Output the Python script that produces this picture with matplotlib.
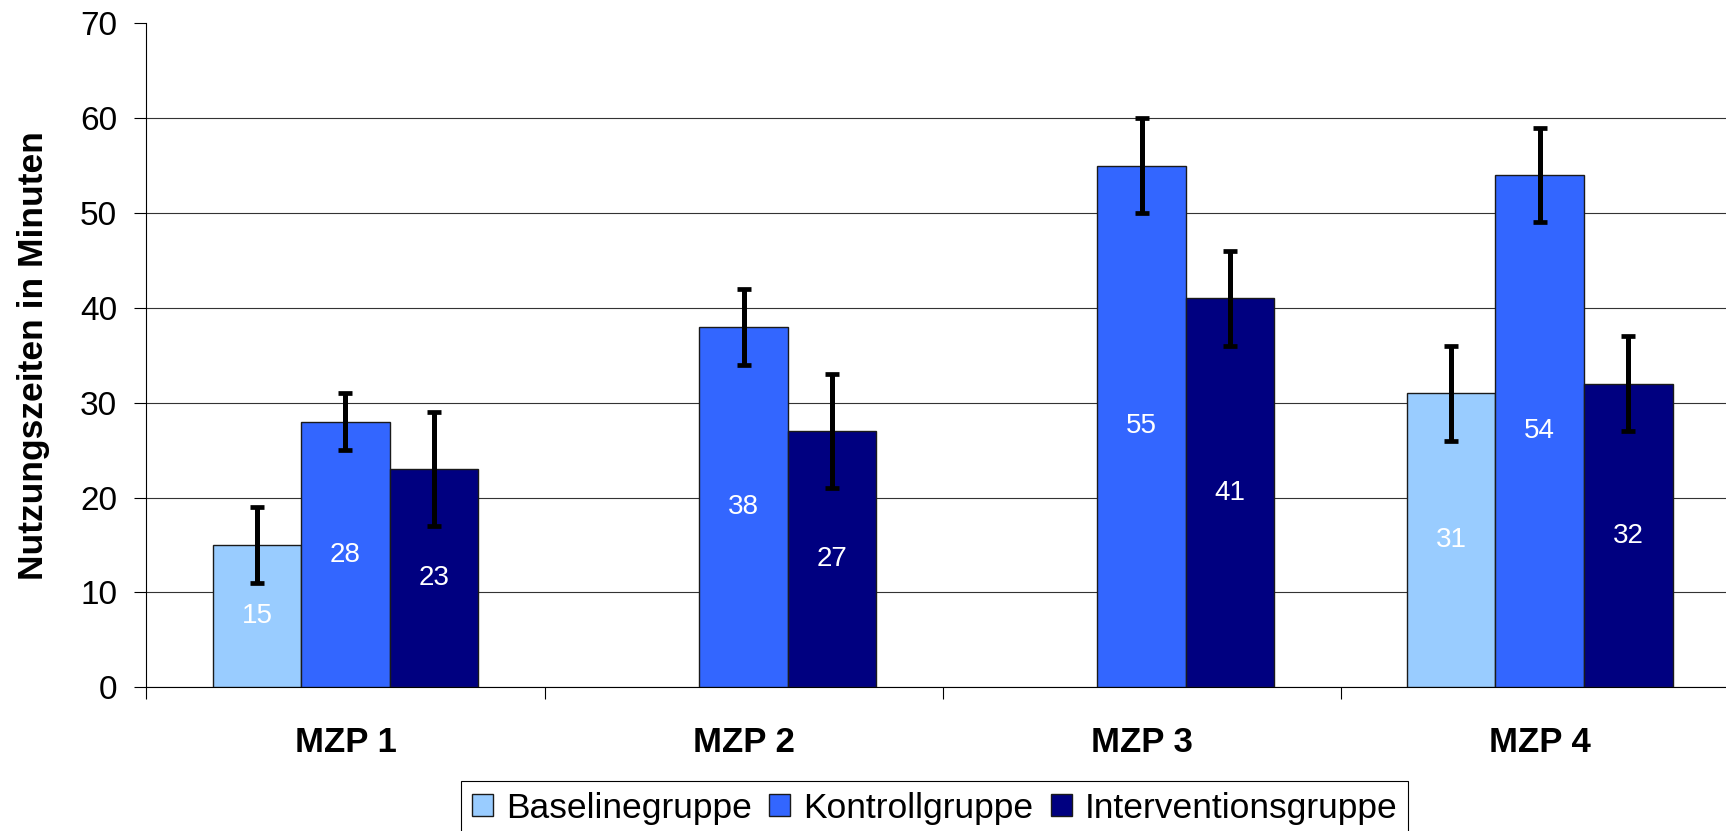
import numpy as np
import matplotlib
matplotlib.use("Agg")
import matplotlib.pyplot as plt
from matplotlib.patches import Patch

categories = ["MZP 1", "MZP 2", "MZP 3", "MZP 4"]
series_names = ["Baselinegruppe", "Kontrollgruppe", "Interventionsgruppe"]
baseline = [15, np.nan, np.nan, 31]
baseline_err = [4, np.nan, np.nan, 5]
kontroll = [28, 38, 55, 54]
kontroll_err = [3, 4, 5, 5]
intervention = [23, 27, 41, 32]
intervention_err = [6, 6, 5, 5]
yticks = [0, 10, 20, 30, 40, 50, 60, 70]
ylabel = "Nutzungszeiten in Minuten"

colors = ["#99CCFF", "#3366FF", "#000080"]

plt.rcParams['font.family'] = ['Liberation Sans', 'DejaVu Sans']

W, H = 1726, 831
fig = plt.figure(figsize=(W / 100, H / 100), dpi=100)
left, right, top, bottom = 146.4, 1738.8, 23.3, 687.3
ax = fig.add_axes([left / W, 1 - bottom / H, (right - left) / W, (bottom - top) / H])

x = np.arange(len(categories))
bw = 0.2224
series = [(baseline, baseline_err), (kontroll, kontroll_err), (intervention, intervention_err)]
for i, ((vals, errs), c) in enumerate(zip(series, colors)):
    pos = x + (i - 1) * bw
    ax.bar(pos, vals, width=bw, color=c, edgecolor="#1a1a1a", linewidth=1.0, zorder=3)
    ax.errorbar(pos, vals, yerr=errs, fmt="none", ecolor="black", elinewidth=3.6,
                capsize=5.2, capthick=3.4, zorder=4)
    for p, v in zip(pos, vals):
        if not np.isnan(v):
            ax.text(p, v / 2, f"{v:g}", ha="center", va="center", color="white",
                    fontsize=20, zorder=5)

ax.set_xlim(-0.5, len(categories) - 0.5)
ax.set_ylim(0, 70)
ax.set_yticks(yticks)
ax.tick_params(axis="y", labelsize=24, length=8.6, width=0.8, pad=12.5, direction="out")

ax.set_xticks(np.arange(-0.5, len(categories) + 0.5, 1.0))
ax.set_xticklabels([])
ax.set_xticks(x, minor=True)
ax.set_xticklabels(categories, minor=True, fontsize=25, fontweight="bold")
ax.tick_params(axis="x", which="major", length=8.6, width=0.8, direction="out")
ax.tick_params(axis="x", which="minor", length=0, pad=28)

ax.yaxis.grid(True, color="#333333", linewidth=0.8, zorder=0)
ax.set_axisbelow(True)
gl = ax.get_ygridlines()
gl[-1].set_visible(False)

for s in ["top", "right"]:
    ax.spines[s].set_visible(False)
for s in ["left", "bottom"]:
    ax.spines[s].set_linewidth(0.8)
    ax.spines[s].set_color("black")

ax.set_ylabel(ylabel, fontsize=25.5, fontweight="bold")
ax.yaxis.set_label_coords(-0.0605, 0.5)

handles = [Patch(facecolor=c, edgecolor="#1a1a1a", linewidth=1.0) for c in colors]
leg = fig.legend(handles, series_names, loc="upper left",
                 bbox_to_anchor=(461 / W, 1 - 780.7 / H), ncol=3, fontsize=25.5,
                 frameon=True, fancybox=False, shadow=False, framealpha=1,
                 edgecolor="black", handlelength=0.593, handleheight=0.593,
                 handletextpad=0.367, columnspacing=0.49, borderpad=0.31,
                 borderaxespad=0)
leg.get_frame().set_linewidth(0.8)

fig.savefig("out.png", dpi=100)
